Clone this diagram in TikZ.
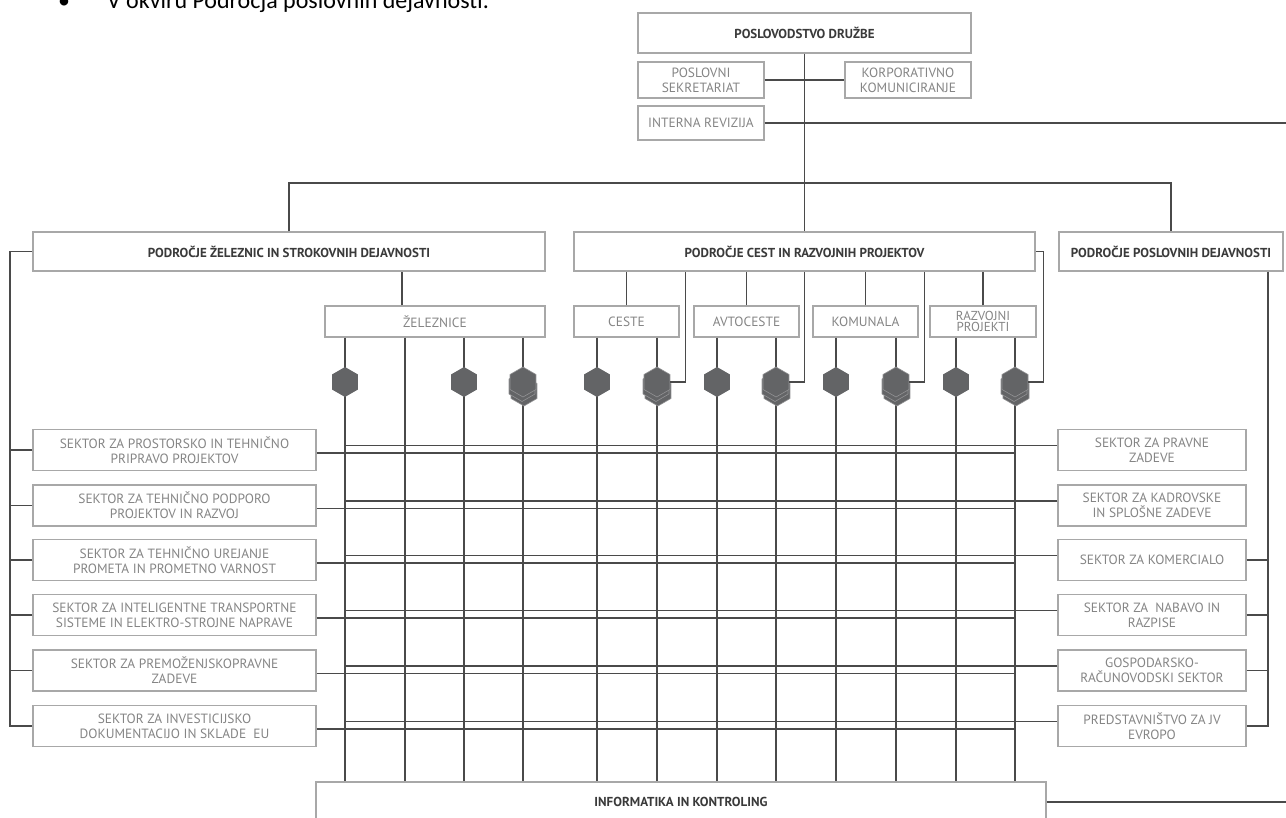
\documentclass[tikz,border=0pt]{standalone}
\usepackage{fontspec}
\setmainfont{PT Sans}
\newfontfamily\bodyfont{Carlito}
\usepackage{tikz}
\usetikzlibrary{shapes.geometric}

\definecolor{linegray}{HTML}{4A4A4A}
\definecolor{boxgray}{HTML}{A8A8A8}
\definecolor{textgray}{HTML}{858585}
\definecolor{headgray}{HTML}{3A3A3A}
\definecolor{hexgray}{HTML}{636466}

\tikzset{
  box/.style={draw=boxgray, line width=1.4pt, fill=white, inner sep=0pt, align=center,
    text=textgray, font=\fontsize{13.4}{15}\selectfont},
  head/.style={box, text=headgray, font=\fontsize{13}{15}\selectfont\bfseries},
  sector/.style={box, minimum height=41pt},
  conn/.style={draw=linegray, line width=1.3pt},
  hexa/.style={regular polygon, regular polygon sides=6, shape border rotate=30,
    minimum size=30pt, inner sep=0pt, fill=hexgray},
  hexlayer/.style={hexa, draw=hexgray!70!white, line width=0.6pt}
}

\begin{document}
\begin{tikzpicture}[x=1pt, y=-1pt]
\useasboundingbox[fill=white] (0,0) rectangle (1286,818);

% heading text cut by the page edge
\node[anchor=base west, font=\bodyfont\fontsize{24}{28}\selectfont, inner sep=0pt] (bullet) at (58,9) {•};
\node[anchor=base west, font=\bodyfont\fontsize{24}{28}\selectfont, inner sep=0pt] (title) at (107,9) {V okviru Področja poslovnih dejavnosti.};

% management
\node[head, minimum width=333pt, minimum height=40pt] (pd) at (804.5,33) {POSLOVODSTVO DRUŽBE};
\node[box, minimum width=126pt, minimum height=36pt] (ps) at (701,80) {POSLOVNI\\SEKRETARIAT};
\node[box, minimum width=126pt, minimum height=36pt] (kk) at (908,80) {KORPORATIVNO\\KOMUNICIRANJE};
\node[box, minimum width=126pt, minimum height=34pt] (ir) at (701,123) {INTERNA REVIZIJA};
\coordinate (irend) at (1292,123);
\coordinate (bus) at (804.5,183);

% areas
\node[head, minimum width=512pt, minimum height=39pt] (pz) at (289,251.5) {PODROČJE ŽELEZNIC IN STROKOVNIH DEJAVNOSTI};
\node[head, minimum width=461pt, minimum height=39pt] (pc) at (804.5,251.5) {PODROČJE CEST IN RAZVOJNIH PROJEKTOV};
\node[head, minimum width=224pt, minimum height=39pt] (pp) at (1171,251.5) {PODROČJE POSLOVNIH DEJAVNOSTI};

% units
\node[box, minimum width=220pt, minimum height=31pt] (zel) at (435,321.5) {ŽELEZNICE};
\node[box, minimum width=105pt, minimum height=31pt] (ces) at (626.5,321.5) {CESTE};
\node[box, minimum width=105pt, minimum height=31pt] (avt) at (746.5,321.5) {AVTOCESTE};
\node[box, minimum width=105pt, minimum height=31pt] (kom) at (865.5,321.5) {KOMUNALA};
\node[box, minimum width=106pt, minimum height=31pt, font=\fontsize{13}{11.5}\selectfont] (raz) at (983,321.5) {RAZVOJNI\\PROJEKTI};

% sectors
\node[sector, minimum width=283pt] (s1) at (174.5,450) {SEKTOR ZA PROSTORSKO IN TEHNIČNO\\PRIPRAVO PROJEKTOV};
\node[sector, minimum width=283pt] (s2) at (174.5,505.5) {SEKTOR ZA TEHNIČNO PODPORO\\PROJEKTOV IN RAZVOJ};
\node[sector, minimum width=283pt] (s3) at (174.5,560) {SEKTOR ZA TEHNIČNO UREJANJE\\PROMETA IN PROMETNO VARNOST};
\node[sector, minimum width=283pt] (s4) at (174.5,615) {SEKTOR ZA INTELIGENTNE TRANSPORTNE\\SISTEME IN ELEKTRO-STROJNE NAPRAVE};
\node[sector, minimum width=283pt] (s5) at (174.5,670.5) {SEKTOR ZA PREMOŽENJSKOPRAVNE\\ZADEVE};
\node[sector, minimum width=283pt] (s6) at (174.5,726) {SEKTOR ZA INVESTICIJSKO\\DOKUMENTACIJO IN SKLADE~~EU};

\node[sector, minimum width=188pt] (r1) at (1152,450) {SEKTOR ZA PRAVNE\\ZADEVE};
\node[sector, minimum width=188pt] (r2) at (1152,505.5) {SEKTOR ZA KADROVSKE\\IN SPLOŠNE ZADEVE};
\node[sector, minimum width=188pt] (r3) at (1152,560) {SEKTOR ZA KOMERCIALO};
\node[sector, minimum width=188pt] (r4) at (1152,615) {SEKTOR ZA~~NABAVO IN\\RAZPISE};
\node[sector, minimum width=188pt] (r5) at (1152,670.5) {GOSPODARSKO-\\RAČUNOVODSKI SEKTOR};
\node[sector, minimum width=188pt] (r6) at (1152,726) {PREDSTAVNIŠTVO ZA JV\\EVROPO};

\node[head, minimum width=730pt, minimum height=40pt] (inf) at (681,802) {INFORMATIKA IN KONTROLING};
\coordinate (infend) at (1292,802);

\coordinate (lb) at (10,251.5);
\coordinate (rb) at (1268,271);

% hexagon positions
\foreach \n/\x in {1/345,2/405,3/464,4/523,5/597,6/657,7/717,8/776,9/836,10/896,11/956,12/1015}
  \coordinate (c\n) at (\x,382);

% connectors
\draw[conn] (pd.south) -- (pc.north);
\draw[conn] (ps.east) -- (kk.west);
\draw[conn] (ir.east) -- (irend);
\draw[conn] (pz.north) |- (bus) -| (pp.north);
\draw[conn] ([xshift=-33pt]zel.north) -- ([xshift=-33pt]zel.north |- pz.south);
\foreach \u in {ces,avt,kom,raz}
  \draw[conn] (\u.north) -- (\u.north |- pc.south);
\foreach \n in {1,...,12}
  \draw[conn] (c\n |- zel.south) -- (c\n |- inf.north);
\foreach \i in {1,...,6} {
  \draw[conn] ([yshift=4.5pt]r\i.west) -- ([yshift=4.5pt]r\i.west -| c1);
  \draw[conn] ([yshift=-3pt]s\i.east) -- ([yshift=-3pt]s\i.east -| c12);
}
\draw[conn] (pz.west) -- (lb) |- (s6.west);
\foreach \i in {1,...,5}
  \draw[conn] (s\i.west) -- (s\i.west -| lb);
\draw[conn] (pp.south -| rb) |- (r6.east);
\foreach \i in {3,4,5}
  \draw[conn] (r\i.east) -- (r\i.east -| rb);
\draw[conn] (inf.east) -- (infend);

% hexagons
\foreach \n in {1,3,5,7,9,11}
  \node[hexa] (h\n) at (c\n) {};
\foreach \n in {4,6,8,10,12} {
  \node[hexlayer] at ([shift={(1pt,-9pt)}]c\n) {};
  \node[hexlayer] at ([shift={(-1pt,-4.5pt)}]c\n) {};
  \node[hexlayer] (h\n) at (c\n) {};
}
\foreach \n in {6,8,10,12}
  \draw[conn] (h\n.east) -| ([xshift=15pt]h\n.east |- pc.south);
\draw[conn] ([xshift=15pt]h12.east |- pc.south) -- ([xshift=15pt]h12.east |- pc.east) -- (pc.east);
\end{tikzpicture}
\end{document}
